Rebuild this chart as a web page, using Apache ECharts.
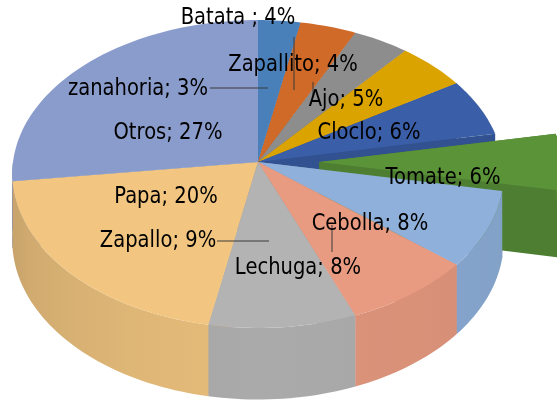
<!DOCTYPE html>
<html>
<head>
<meta charset="utf-8">
<script src="https://cdn.jsdelivr.net/npm/echarts@6/dist/echarts.min.js"></script>
<style>
  html, body { margin: 0; padding: 0; background: #fff; }
  #chart { width: 557px; height: 401px; }
</style>
</head>
<body>
<div id="chart"></div>
<script>
// data, clockwise from 12 o'clock
const categories = ["zanahoria", "Zapallito", "Batata ", "Ajo", "Cloclo", "Tomate", "Cebolla", "Lechuga", "Zapallo", "Papa", "Otros"];
const values = [3, 4, 4, 5, 6, 6, 8, 8, 9, 20, 27];
const colors = ["#4A80BA", "#CF6A28", "#8D8D8D", "#DBA300", "#3A5EA7", "#5B9339", "#8FB0DA", "#E89B81", "#B3B3B3", "#F2C681", "#8A9CCB"];
const explodeIndex = 5;

// label layout (px), same order as categories
const labelPos = [[138, 89], [293, 65], [238, 18], [346, 100], [369, 133], [443, 178], [370, 224], [298, 268], [158, 241], [166, 197], [168, 133]];
const leaders = {
  0: [[210, 88], [268, 88]],
  1: [[294, 37], [294, 90]],
  3: [[313, 82], [313, 96]],
  6: [[332, 225], [332, 252]],
  8: [[217, 241], [269, 241]]
};

// 3d pie geometry
const CX = 258, CY = 162, RX = 245, RY = 153, PERS = 0.078, DEPTH = 66, EXPLODE = 0.25;

const total = values.reduce((a, b) => a + b, 0);
const starts = [];
let acc = 0;
values.forEach(v => { starts.push(acc / total * 360); acc += v; });

function rad(d) { return d * Math.PI / 180; }
function proj(X, Y, h) {
  const s = 1 / (1 + PERS * Y);
  return [CX + RX * X * s, CY - RY * Y * s + DEPTH * h * s];
}
function shade(hex, f) {
  const n = parseInt(hex.slice(1), 16);
  const r = Math.round(((n >> 16) & 255) * f), g = Math.round(((n >> 8) & 255) * f), b = Math.round((n & 255) * f);
  return "rgb(" + r + "," + g + "," + b + ")";
}
function light(t) {
  if (t <= 180) return 0.95 - (180 - t) / 90 * 0.04;
  return 0.95 - Math.pow((t - 180) / 90, 1.3) * 0.14;
}

var myChart = echarts.init(document.getElementById("chart"), null, { renderer: "canvas" });

function renderItem(params, api) {
  const i = params.dataIndex;
  const a0 = starts[i];
  const a1 = a0 + values[i] / total * 360;
  const mid = (a0 + a1) / 2;
  const ex = i === explodeIndex;
  const ox = ex ? EXPLODE * Math.sin(rad(mid)) : 0;
  const oy = ex ? EXPLODE * Math.cos(rad(mid)) : 0;
  const pt = (t, r, h) => proj(ox + r * Math.sin(rad(t)), oy + r * Math.cos(rad(t)), h);
  const arc = (lo, hi, h) => {
    const n = Math.max(2, Math.ceil((hi - lo) / 1.5));
    const out = [];
    for (let k = 0; k <= n; k++) out.push(pt(lo + (hi - lo) * k / n, 1, h));
    return out;
  };
  const children = [];
  const col = colors[i];

  // radial faces (only seen in the gap around the exploded slice)
  [a0, a1].forEach(t => {
    children.push({
      type: "polygon",
      z2: ex ? 1 : 0,
      shape: { points: [pt(t, 0, 0), pt(t, 1, 0), pt(t, 1, 1), pt(t, 0, 1)] },
      style: { fill: shade(col, 0.86) }
    });
  });

  // outer wall
  const lo = ex ? a0 : Math.max(a0, 90);
  const hi = ex ? a1 : Math.min(a1, 270);
  if (hi > lo) {
    const top = arc(lo, hi, 0);
    const bot = arc(lo, hi, 1).reverse();
    const xr = pt(lo, 1, 0)[0], xl = pt(hi, 1, 0)[0];
    const stops = [];
    for (let k = 0; k <= 4; k++) {
      const t = hi - (hi - lo) * k / 4;
      const x = pt(t, 1, 0)[0];
      stops.push({ offset: Math.min(1, Math.max(0, (x - xl) / Math.max(1, xr - xl))), color: shade(col, light(t)) });
    }
    stops.sort((p, q) => p.offset - q.offset);
    children.push({
      type: "polygon",
      z2: ex ? 2 : 4,
      shape: { points: top.concat(bot) },
      style: { fill: new echarts.graphic.LinearGradient(xl, 0, xr, 0, stops, true) }
    });
  }

  // top face
  children.push({
    type: "polygon",
    z2: ex ? 3 : 5,
    shape: { points: [pt(0, 0, 0)].concat(arc(a0, a1, 0)) },
    style: { fill: col }
  });

  // leader line
  if (leaders[i]) {
    children.push({
      type: "polyline",
      z2: 9,
      shape: { points: leaders[i] },
      style: { stroke: "#3a3a3a", lineWidth: 1, fill: null }
    });
  }

  // label
  const pct = Math.round(values[i] / total * 100);
  children.push({
    type: "text",
    z2: 10,
    x: labelPos[i][0],
    y: labelPos[i][1],
    scaleX: 0.85,
    style: {
      text: categories[i] + "; " + pct + "%",
      x: 0,
      y: 0,
      align: "center",
      verticalAlign: "middle",
      fill: "#000",
      fontSize: 23,
      fontFamily: "DejaVu Sans"
    }
  });

  return { type: "group", children: children };
}

var option = {
  backgroundColor: "#fff",
  animation: false,
  series: [
    {
      type: "custom",
      coordinateSystem: "none",
      silent: true,
      renderItem: renderItem,
      data: values.map((v, i) => ({ name: categories[i], value: v }))
    }
  ]
};

option && myChart.setOption(option);
</script>
</body>
</html>
